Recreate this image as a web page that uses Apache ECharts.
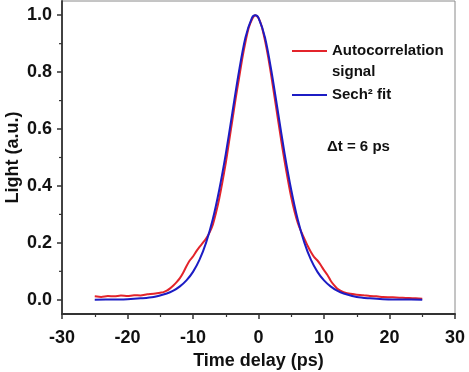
<!DOCTYPE html>
<html>
<head>
<meta charset="utf-8">
<script src="https://cdn.jsdelivr.net/npm/echarts@6/dist/echarts.min.js"></script>
<style>
html,body{margin:0;padding:0;background:#fff;}
#chart{width:469px;height:372px;}
</style>
</head>
<body>
<div id="chart"></div>
<script>
// Autocorrelation signal (red)
const redT = [-25,-24,-23,-22,-21,-20,-19,-18,-17,-16,-15,-14.5,-14,-13.5,-13,-12.5,-12,-11.5,-11,-10.5,-10,-9.5,-9,-8.5,-8,-7.5,-7,-6.5,-6,-5.5,-5,-4.5,-4,-3.5,-3,-2.5,-2,-1.5,-1,-0.5,0,0.5,1,1.5,2,2.5,3,3.5,4,4.5,5,5.5,6,6.5,7,7.5,8,8.5,9,9.5,10,10.5,11,11.5,12,12.5,13,14,15,16,17,18,19,20,21,22,23,24,25];
const redY = [0.012,0.010,0.013,0.012,0.015,0.013,0.016,0.015,0.019,0.021,0.025,0.027,0.032,0.040,0.050,0.062,0.076,0.095,0.118,0.138,0.152,0.170,0.186,0.200,0.215,0.235,0.262,0.305,0.355,0.415,0.480,0.555,0.630,0.705,0.775,0.845,0.905,0.955,0.985,1.000,0.990,0.960,0.910,0.850,0.780,0.705,0.630,0.555,0.485,0.420,0.360,0.310,0.270,0.240,0.215,0.190,0.168,0.150,0.138,0.122,0.104,0.088,0.068,0.052,0.040,0.032,0.027,0.021,0.018,0.016,0.013,0.012,0.010,0.009,0.008,0.007,0.006,0.005,0.004];
// Sech^2 fit (blue)
const blueT = [-25,-22,-20,-18,-16,-14,-13,-12,-11,-10,-9,-8,-7,-6,-5,-4,-3,-2,-1,-0.5,0,1,2,3,4,5,6,7,8,9,10,11,12,13,15,17,19,22,25];
const blueY = [0.000,0.001,0.002,0.005,0.010,0.022,0.032,0.047,0.068,0.098,0.141,0.201,0.281,0.386,0.512,0.656,0.800,0.921,0.991,1.000,0.991,0.921,0.800,0.656,0.512,0.386,0.281,0.201,0.141,0.098,0.068,0.047,0.032,0.022,0.010,0.005,0.002,0.001,0.000];
// Axis ticks
const xTicks = [-30,-20,-10,0,10,20,30];
const yMajor = [0.0,0.2,0.4,0.6,0.8,1.0];
const yMinor = [0.1,0.3,0.5,0.7,0.9];
const seriesNames = ['Autocorrelation signal','Sech\u00b2 fit'];

const FONT = "'Liberation Sans', Arial, sans-serif";
const redData = redT.map((t,i)=>[t,redY[i]]);
const blueData = blueT.map((t,i)=>[t,blueY[i]]);
const xMin = xTicks[0];

const chart = echarts.init(document.getElementById('chart'));
chart.setOption({
  animation:false,
  backgroundColor:'#fff',
  grid:{left:62,right:14,top:1,bottom:58,outerBoundsMode:'none',containLabel:false,show:true,borderColor:'#8a8a8a',borderWidth:1,backgroundColor:'transparent'},
  xAxis:{
    type:'value',min:xTicks[0],max:xTicks[xTicks.length-1],interval:10,
    name:'Time delay (ps)',nameLocation:'middle',nameGap:33,
    nameTextStyle:{fontFamily:FONT,fontWeight:'bold',fontSize:18,color:'#111'},
    axisLine:{show:true,onZero:false,lineStyle:{color:'#333',width:2}},
    axisTick:{show:true,inside:false,length:5,lineStyle:{color:'#333',width:1.5}},
    minorTick:{show:true,splitNumber:2,length:3,lineStyle:{color:'#333',width:1.2}},
    axisLabel:{fontFamily:FONT,fontWeight:'bold',fontSize:18,color:'#111',margin:15,alignMinLabel:'center',alignMaxLabel:'center'},
    splitLine:{show:false}
  },
  yAxis:{
    type:'value',min:-0.05,max:1.05,position:'left',
    name:'Light (a.u.)',nameLocation:'middle',nameGap:40,nameMoveOverlap:false,
    nameTextStyle:{fontFamily:FONT,fontWeight:'bold',fontSize:18,color:'#111'},
    axisLine:{show:true,onZero:false,lineStyle:{color:'#333',width:1.8}},
    axisTick:{show:true,inside:false,length:5,customValues:yMajor,lineStyle:{color:'#333',width:1.5}},
    axisLabel:{fontFamily:FONT,fontWeight:'bold',fontSize:18,color:'#111',margin:10,customValues:yMajor,formatter:v=>v.toFixed(1)},
    splitLine:{show:false}
  },
  series:[
    {name:seriesNames[0],type:'line',data:redData,showSymbol:false,smooth:0.2,lineStyle:{color:'#e3242b',width:2},itemStyle:{color:'#e3242b'},z:2},
    {name:seriesNames[1],type:'line',data:blueData,showSymbol:false,smooth:0.3,lineStyle:{color:'#1c1cc4',width:2},itemStyle:{color:'#1c1cc4'},z:3},
    {name:'yMinorTicks',type:'custom',clip:false,silent:true,z:4,
     data:yMinor.map(v=>[xMin,v]),
     renderItem:function(params,api){
       const p = api.coord([api.value(0),api.value(1)]);
       return {type:'line',shape:{x1:p[0]-3,y1:p[1],x2:p[0],y2:p[1]},style:{stroke:'#333',lineWidth:1.2}};
     }}
  ],
  graphic:[
    {type:'line',shape:{x1:292,y1:51,x2:327,y2:51},style:{stroke:'#e3242b',lineWidth:2}},
    {type:'text',x:332,y:51,style:{text:'Autocorrelation',font:"bold 15px 'Liberation Sans', Arial",fill:'#111',verticalAlign:'middle'}},
    {type:'text',x:332,y:72,style:{text:'signal',font:"bold 15px 'Liberation Sans', Arial",fill:'#111',verticalAlign:'middle'}},
    {type:'line',shape:{x1:292,y1:95,x2:327,y2:95},style:{stroke:'#1c1cc4',lineWidth:2}},
    {type:'text',x:332,y:95,style:{text:'Sech\u00b2 fit',font:"bold 15px 'Liberation Sans', Arial",fill:'#111',verticalAlign:'middle'}},
    {type:'text',x:327,y:147,style:{text:'\u0394t = 6 ps',font:"bold 15px 'Liberation Sans', Arial",fill:'#111',verticalAlign:'middle'}}
  ]
});
</script>
</body>
</html>
